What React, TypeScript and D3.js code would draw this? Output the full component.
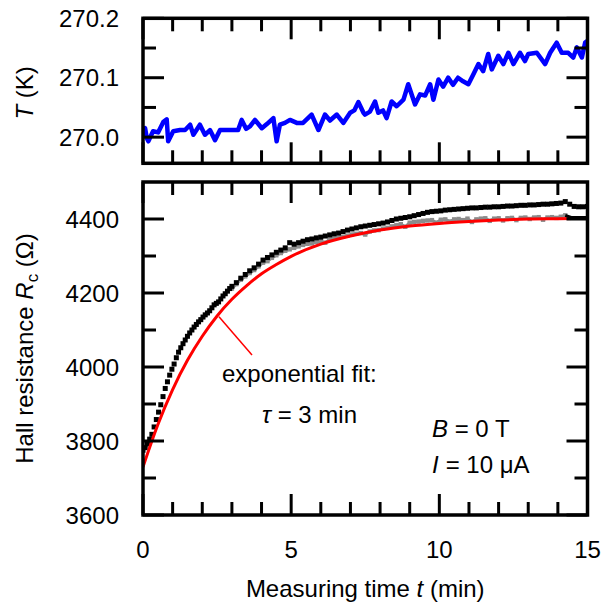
import React from "react";
import * as d3 from "d3";

// ---------- data ----------
// Top panel: temperature T (K) vs time t (min)
const tempTime = [
  0.0, 0.07, 0.13, 0.18, 0.34, 0.51, 0.69, 0.8, 0.85, 1.02, 1.25, 1.42, 1.59, 1.7, 1.92, 2.09, 2.26, 2.43,
  2.6, 2.94, 3.21, 3.33, 3.48, 3.61, 3.78, 4.01, 4.18, 4.4, 4.51, 4.62, 4.79, 4.96, 5.19, 5.4, 5.69, 5.92,
  6.14, 6.31, 6.54, 6.76, 6.99, 7.13, 7.27, 7.44, 7.49, 7.66, 7.83, 7.94, 8.1, 8.22, 8.39, 8.56, 8.79, 8.95,
  9.18, 9.35, 9.52, 9.69, 9.8, 9.97, 10.13, 10.3, 10.46, 10.63, 10.8, 10.98, 11.15, 11.32, 11.48, 11.65,
  11.77, 11.99, 12.16, 12.33, 12.5, 12.72, 12.89, 13.0, 13.29, 13.57, 13.74, 13.96, 14.13, 14.35, 14.52,
  14.64, 14.81, 14.92, 15.0,
];
const tempK = [
  270.012, 270.015, 269.998, 269.993, 270.01, 270.008, 270.026, 270.03, 269.993, 270.01, 270.012, 270.012,
  270.021, 270.004, 270.021, 270.004, 270.012, 269.995, 270.012, 270.012, 270.012, 270.029, 270.014,
  270.018, 270.029, 270.015, 270.022, 270.032, 269.993, 270.021, 270.024, 270.029, 270.024, 270.024,
  270.038, 270.012, 270.038, 270.028, 270.038, 270.024, 270.041, 270.045, 270.059, 270.041, 270.038,
  270.043, 270.06, 270.041, 270.045, 270.032, 270.06, 270.052, 270.063, 270.089, 270.055, 270.072, 270.07,
  270.089, 270.063, 270.097, 270.085, 270.1, 270.088, 270.1, 270.094, 270.089, 270.106, 270.123, 270.111,
  270.14, 270.114, 270.137, 270.123, 270.142, 270.123, 270.142, 270.128, 270.14, 270.142, 270.123,
  270.142, 270.159, 270.142, 270.142, 270.134, 270.151, 270.134, 270.159, 270.162,
];

// Bottom panel: Hall resistance (Ohm)
// early part, sampled every 0.075 min from t = 0
const earlyStep = 0.075;
const earlyStart = 0;
const hallEarly = [
  3775, 3782, 3792, 3805, 3818, 3838, 3858, 3878, 3898, 3920,
  3942, 3960, 3978, 3994, 4008, 4025, 4040, 4052, 4063, 4073,
  4083, 4092, 4100, 4108, 4115, 4122, 4128, 4135, 4141, 4146,
  4152, 4160, 4168, 4172, 4176, 4184, 4192, 4198, 4205, 4212,
];
// later part, sampled every 0.15 min from t = 3
const lateStep = 0.15;
const lateStart = 3.0;
const hallLate = [
  4218, 4228, 4240, 4250, 4260, 4268, 4278, 4289, 4296, 4303,
  4310, 4316, 4322, 4336, 4332, 4336, 4340, 4344, 4346, 4349,
  4351, 4354, 4357, 4360, 4362, 4366, 4370, 4373, 4376, 4379,
  4381, 4383, 4385, 4387, 4389, 4392, 4396, 4400, 4402, 4404,
  4406, 4409, 4412, 4415, 4418, 4420, 4421, 4422, 4424, 4425,
  4426, 4427, 4428, 4429, 4430, 4430, 4431, 4432, 4432, 4433,
  4433, 4434, 4435, 4435, 4436, 4437, 4437, 4438, 4438, 4439,
  4440, 4440, 4441, 4442, 4443, 4447, 4440, 4434, 4433, 4433,
  4434,
];
// grey (second) measurement, every 0.15 min from t = 3
const greyStart = 3.0;
const greyR = [
  4212, 4224, 4236, 4245, 4254, 4262, 4272, 4282, 4286, 4295,
  4302, 4308, 4314, 4318, 4322, 4326, 4330, 4333, 4334, 4338,
  4340, 4336, 4345, 4348, 4350, 4352, 4355, 4358, 4360, 4362,
  4358, 4366, 4369, 4370, 4374, 4376, 4380, 4383, 4386, 4379,
  4390, 4392, 4393, 4395, 4396, 4397, 4390, 4398, 4399, 4393,
  4399, 4400, 4397, 4401, 4392, 4399, 4401, 4402, 4395, 4401,
  4402, 4396, 4402, 4403, 4397, 4403, 4404, 4400, 4404, 4405,
  4398, 4404, 4405, 4403, 4406, 4410,
];
const tailTime = [14.25, 14.45, 15.0];
const tailR = [4410, 4404, 4404];

// exponential fit
const fitTime = [0, 0.5, 1, 1.5, 2, 2.5, 3, 3.5, 4, 4.5, 5, 6, 7, 8, 9, 10, 11, 12, 13, 14, 15];
const fitR = [3730, 3844, 3939, 4018, 4083, 4138, 4183, 4220, 4252, 4277, 4299, 4332, 4354, 4370, 4381, 4388, 4393, 4397, 4400, 4401, 4402];

// ticks
const xMajor = [0, 5, 10, 15];
const xMinor = [1, 2, 3, 4, 6, 7, 8, 9, 11, 12, 13, 14];
const xLabels = ["0", "5", "10", "15"];
const topMajor = [270.0, 270.1, 270.2];
const topMinor = [270.05, 270.15];
const topLabels = ["270.0", "270.1", "270.2"];
const botMajor = [3600, 3800, 4000, 4200, 4400];
const botMinor = [3700, 3900, 4100, 4300];
const botLabels = ["3600", "3800", "4000", "4200", "4400"];

// ---------- layout ----------
const W = 603;
const H = 608;
const L = 143;
const R = 587.5;
const topY0 = 18.3;
const topY1 = 163.3;
const botY0 = 182;
const botY1 = 515;
const MAJ = 21;
const MIN = 13;
const FONT = "Liberation Sans, Arial, Helvetica, sans-serif";
const FS = 24;

export default function App() {
  const x = d3.scaleLinear().domain([0, 15]).range([L, R]);
  const yT = d3.scaleLinear().domain([269.956, 270.2]).range([topY1, topY0]);
  const yR = d3.scaleLinear().domain([3600, 4500]).range([botY1, botY0]);

  const tempPts: [number, number][] = tempTime.map((t, i) => [t, tempK[i]]);
  const hallPts: [number, number][] = [
    ...hallEarly.map((v, i) => [earlyStart + i * earlyStep, v] as [number, number]),
    ...hallLate.map((v, i) => [lateStart + i * lateStep, v] as [number, number]),
  ];
  const greyPts: [number, number][] = greyR.map((v, i) => [greyStart + i * lateStep, v]);
  const tailPts: [number, number][] = tailTime.map((t, i) => [t, tailR[i]]);
  const fitPts: [number, number][] = fitTime.map((t, i) => [t, fitR[i]]);

  const lineT = d3.line<[number, number]>().x((d) => x(d[0])).y((d) => yT(d[1]));
  const lineR = d3.line<[number, number]>().x((d) => x(d[0])).y((d) => yR(d[1]));
  const lineFit = d3
    .line<[number, number]>()
    .x((d) => x(d[0]))
    .y((d) => yR(d[1]))
    .curve(d3.curveMonotoneX);

  const sq = 5;

  const xTicks = (y0: number, y1: number) => (
    <g stroke="#000" strokeWidth={3}>
      {xMajor.map((v) => (
        <g key={"M" + v}>
          <line x1={x(v)} x2={x(v)} y1={y0} y2={y0 + MAJ} />
          <line x1={x(v)} x2={x(v)} y1={y1} y2={y1 - MAJ} />
        </g>
      ))}
      {xMinor.map((v) => (
        <g key={"m" + v}>
          <line x1={x(v)} x2={x(v)} y1={y0} y2={y0 + MIN} />
          <line x1={x(v)} x2={x(v)} y1={y1} y2={y1 - MIN} />
        </g>
      ))}
    </g>
  );

  const yTicks = (scale: d3.ScaleLinear<number, number>, major: number[], minor: number[]) => (
    <g stroke="#000" strokeWidth={3}>
      {major.map((v) => (
        <g key={"M" + v}>
          <line x1={L} x2={L + MAJ} y1={scale(v)} y2={scale(v)} />
          <line x1={R} x2={R - MAJ} y1={scale(v)} y2={scale(v)} />
        </g>
      ))}
      {minor.map((v) => (
        <g key={"m" + v}>
          <line x1={L} x2={L + MIN} y1={scale(v)} y2={scale(v)} />
          <line x1={R} x2={R - MIN} y1={scale(v)} y2={scale(v)} />
        </g>
      ))}
    </g>
  );

  return (
    <svg
      width={W}
      height={H}
      viewBox={`0 0 ${W} ${H}`}
      style={{ position: "absolute", left: 0, top: 0, background: "#fff" }}
      fontFamily={FONT}
    >
      <rect x={0} y={0} width={W} height={H} fill="#fff" />
      <defs>
        <clipPath id="clipTop">
          <rect x={L} y={topY0} width={R - L} height={topY1 - topY0} />
        </clipPath>
        <clipPath id="clipBot">
          <rect x={L} y={botY0} width={R - L} height={botY1 - botY0} />
        </clipPath>
      </defs>

      {/* ---------- top panel ---------- */}
      <g clipPath="url(#clipTop)">
        <path d={lineT(tempPts) || ""} fill="none" stroke="#0000ff" strokeWidth={4.5} strokeLinejoin="round" />
      </g>
      {xTicks(topY0, topY1)}
      {yTicks(yT, topMajor, topMinor)}
      <rect x={L} y={topY0} width={R - L} height={topY1 - topY0} fill="none" stroke="#000" strokeWidth={3.5} />
      {topMajor.map((v, i) => (
        <text key={v} x={119} y={yT(v) + 8.5} fontSize={FS} textAnchor="end" fill="#000">
          {topLabels[i]}
        </text>
      ))}
      <text
        transform={`translate(33, ${(topY0 + topY1) / 2 + 2}) rotate(-90)`}
        fontSize={FS}
        textAnchor="middle"
        fill="#000"
      >
        <tspan fontStyle="italic">T</tspan>
        <tspan> (K)</tspan>
      </text>

      {/* ---------- bottom panel ---------- */}
      <g clipPath="url(#clipBot)">
        <path d={lineR(greyPts) || ""} fill="none" stroke="#8c8c8c" strokeWidth={3} />
        {greyPts.map((d, i) => (
          <rect key={"g" + i} x={x(d[0]) - 2.2} y={yR(d[1]) - 2.2} width={4.4} height={4.4} fill="#8c8c8c" />
        ))}
        {hallPts.map((d, i) => (
          <rect key={"b" + i} x={x(d[0]) - sq / 2} y={yR(d[1]) - sq / 2} width={sq} height={sq} fill="#000" />
        ))}
        <path d={lineFit(fitPts) || ""} fill="none" stroke="#ff0000" strokeWidth={3} />
        <path d={lineR(tailPts) || ""} fill="none" stroke="#000" strokeWidth={3} />
      </g>
      {xTicks(botY0, botY1)}
      {yTicks(yR, botMajor, botMinor)}
      <rect x={L} y={botY0} width={R - L} height={botY1 - botY0} fill="none" stroke="#000" strokeWidth={3.5} />
      {botMajor.map((v, i) => (
        <text key={v} x={119} y={yR(v) + 8.5} fontSize={FS} textAnchor="end" fill="#000">
          {botLabels[i]}
        </text>
      ))}
      {xMajor.map((v, i) => (
        <text key={v} x={x(v)} y={558} fontSize={FS} textAnchor="middle" fill="#000">
          {xLabels[i]}
        </text>
      ))}
      <text x={(L + R) / 2} y={597} fontSize={FS} textAnchor="middle" fill="#000">
        <tspan>Measuring time </tspan>
        <tspan fontStyle="italic">t</tspan>
        <tspan> (min)</tspan>
      </text>
      <text
        transform={`translate(33, ${(botY0 + botY1) / 2}) rotate(-90)`}
        fontSize={FS}
        textAnchor="middle"
        fill="#000"
      >
        <tspan>Hall resistance </tspan>
        <tspan fontStyle="italic">R</tspan>
        <tspan fontSize={17} dy={5}>c</tspan>
        <tspan dy={-5}> (Ω)</tspan>
      </text>

      {/* annotations */}
      <line x1={219} y1={316.7} x2={252} y2={355} stroke="#ff0000" strokeWidth={1.5} />
      <text x={222} y={382} fontSize={FS} fill="#000">exponential fit:</text>
      <text x={262} y={423} fontSize={FS} fill="#000">
        <tspan fontStyle="italic">τ</tspan>
        <tspan> = 3 min</tspan>
      </text>
      <text x={432} y={437} fontSize={FS} fill="#000">
        <tspan fontStyle="italic">B</tspan>
        <tspan> = 0 T</tspan>
      </text>
      <text x={432} y={473} fontSize={FS} fill="#000">
        <tspan fontStyle="italic">I</tspan>
        <tspan dx={7}>= 10 μA</tspan>
      </text>
    </svg>
  );
}
